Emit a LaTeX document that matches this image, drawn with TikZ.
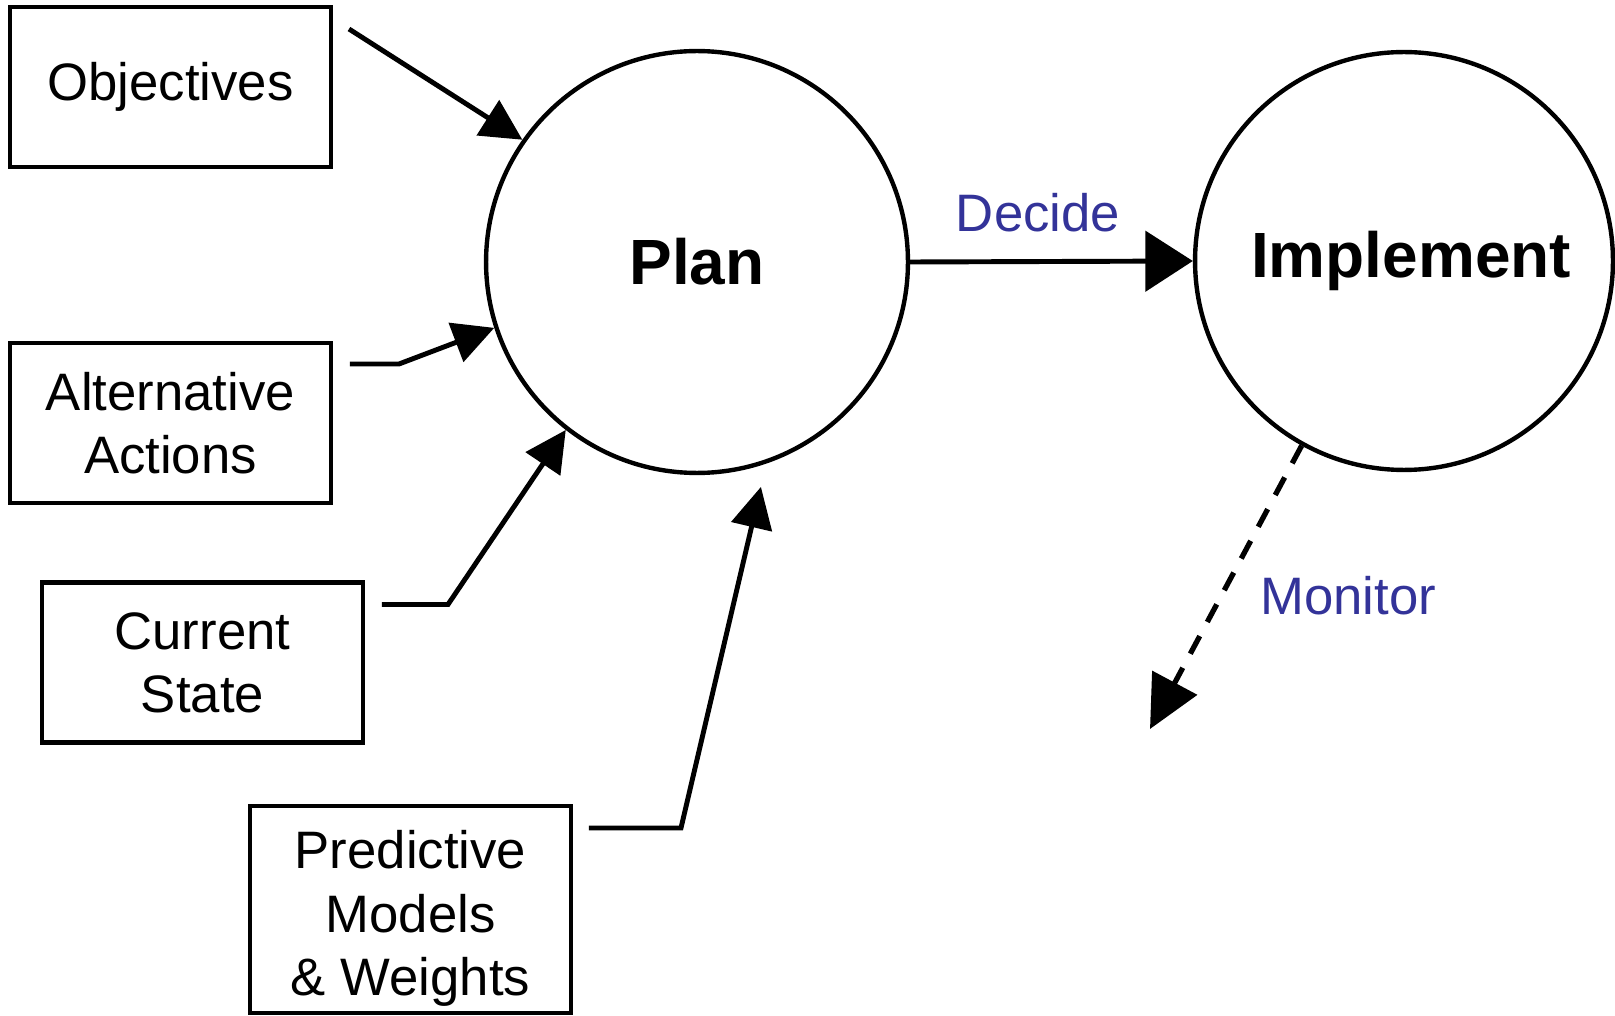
\documentclass[tikz,border=0pt]{standalone}
\usepackage{fontspec}
\setmainfont{Liberation Sans}
\usepackage{xcolor}
\usetikzlibrary{arrows.meta,shapes,calc,positioning}
\definecolor{labelblue}{RGB}{51,51,153}
\tikzset{
  inbox/.style={draw, line width=2.3pt, minimum width=6.42cm, minimum height=3.2cm, align=center, inner sep=1pt, font=\fontsize{30}{36}\selectfont},
  stage/.style={draw, circle, line width=2.5pt, inner sep=0pt, font=\fontsize{36.4}{40}\selectfont\bfseries},
  feed/.style={-{Triangle[length=0.82cm,width=0.82cm]}, line width=2.8pt},
  tag/.style={inner sep=0pt, text=labelblue, font=\fontsize{30}{36}\selectfont}
}

\begin{document}
\begin{tikzpicture}[x=0.02cm, y=-0.02cm]
\useasboundingbox (0,0) rectangle (1615,1016);
\node[stage, minimum size=8.44cm] (plan) at (697,262) {Plan};
\node[stage, minimum size=8.36cm] (impl) at (1404,261) {\hspace*{8pt}Implement};
\node[inbox] (obj) at (170.5,87) {Objectives};
\node[inbox] (alt) at (170.5,423) {Alternative\\Actions};
\node[inbox] (cur) at (202.5,662.5) {Current\\State};
\node[inbox, minimum height=4.14cm] (pred) at (410.5,909.5) {\rule{0pt}{32pt}Predictive\\Models\\\& Weights};
\coordinate (monend) at (1150,729);
\draw[feed] ($(obj.north east)+(16,24)$) -- (plan.145.5);
\draw[feed] ($(alt.north east)+(17,23)$) -- ++(49,0) -- (plan.198.7);
\draw[feed] ($(cur.north east)+(17,24)$) -- ++(66,0) -- (plan.232.6);
\draw[feed, shorten >=0.48cm] ($(pred.north east)+(16,24)$) -- ++(92,0) -- (plan.289.6);
\draw[feed, -{Triangle[length=0.95cm,width=1.2cm]}] (plan.east) -- (impl.west);
\draw[feed, -{Triangle[length=1.05cm,width=1cm]}, line width=3pt, dash pattern=on 0.4cm off 0.32cm] (impl.241.7) -- (monend);
\node[tag] (decide) at (1038,213) {Decide};
\node[tag] (monitor) at (1348,596) {Monitor};
\end{tikzpicture}
\end{document}
